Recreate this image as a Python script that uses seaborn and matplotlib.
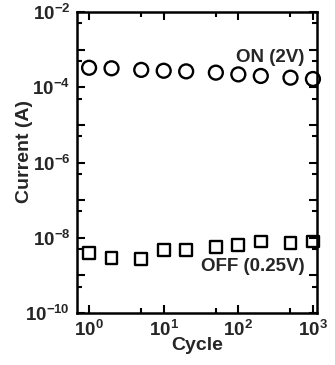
import numpy as np
import pandas as pd
import matplotlib
matplotlib.use("Agg")
import matplotlib.pyplot as plt
import seaborn as sns
from matplotlib.ticker import FixedLocator, FixedFormatter, NullFormatter

# ---- data ----
cycles = [1, 2, 5, 10, 20, 50, 100, 200, 500, 1000]
on_current = [3.3e-4, 3.2e-4, 2.9e-4, 2.75e-4, 2.65e-4, 2.45e-4, 2.2e-4, 2.0e-4, 1.8e-4, 1.66e-4]
off_current = [4.0e-9, 2.85e-9, 2.7e-9, 4.7e-9, 4.7e-9, 5.6e-9, 6.4e-9, 7.9e-9, 7.4e-9, 7.9e-9]
x_tick_labels = ["$\\mathbf{10^{0}}$", "$\\mathbf{10^{1}}$", "$\\mathbf{10^{2}}$", "$\\mathbf{10^{3}}$"]
x_tick_values = [1, 10, 100, 1000]
y_tick_values = [1e-10, 1e-8, 1e-6, 1e-4, 1e-2]
y_tick_labels = ["$\\mathbf{10^{-10}}$", "$\\mathbf{10^{-8}}$", "$\\mathbf{10^{-6}}$",
                 "$\\mathbf{10^{-4}}$", "$\\mathbf{10^{-2}}$"]
on_label = "ON (2V)"
off_label = "OFF (0.25V)"

sns.set_style("ticks")
plt.rcParams["font.family"] = ["Liberation Sans", "DejaVu Sans"]
plt.rcParams["mathtext.fontset"] = "custom"
plt.rcParams["mathtext.bf"] = "Liberation Sans:bold"
plt.rcParams["mathtext.rm"] = "Liberation Sans:bold"

df = pd.DataFrame({"cycle": cycles, "on": on_current, "off": off_current})

fig = plt.figure(figsize=(3.35, 3.65), dpi=100)
ax = fig.add_axes([0.23, 0.1425, 0.716, 0.8245])

sns.scatterplot(data=df, x="cycle", y="on", marker="o", s=100, facecolor="none",
                edgecolor="black", linewidth=1.7, ax=ax, zorder=3, clip_on=False)
sns.scatterplot(data=df, x="cycle", y="off", marker="s", s=72, facecolor="none",
                edgecolor="black", linewidth=1.7, ax=ax, zorder=3, clip_on=False)

ax.set_xscale("log")
ax.set_yscale("log")
ax.set_xlim(0.69, 1130)
ax.set_ylim(1e-10, 1e-2)

ax.xaxis.set_major_locator(FixedLocator(x_tick_values))
ax.xaxis.set_major_formatter(FixedFormatter(x_tick_labels))
ax.xaxis.set_minor_locator(FixedLocator([5, 50, 500]))
ax.xaxis.set_minor_formatter(NullFormatter())
ymaj = [10.0 ** k for k in range(-10, -1)]
ax.yaxis.set_major_locator(FixedLocator(ymaj))
ax.yaxis.set_major_formatter(FixedFormatter(
    [y_tick_labels[y_tick_values.index(v)] if v in y_tick_values else "" for v in
     [1e-10, 1e-9, 1e-8, 1e-7, 1e-6, 1e-5, 1e-4, 1e-3, 1e-2]]))
ax.yaxis.set_minor_locator(FixedLocator([5 * 10.0 ** k for k in range(-10, -2)]))
ax.yaxis.set_minor_formatter(NullFormatter())

ax.tick_params(which="both", direction="in", top=True, right=True, width=1.5, color="black")
ax.tick_params(which="major", length=6, labelsize=13.5, pad=5)
ax.tick_params(which="minor", length=3.5)
for s in ax.spines.values():
    s.set_linewidth(1.8)
    s.set_color("black")

ax.set_xlabel("Cycle", fontsize=14, fontweight="bold")
ax.xaxis.set_label_coords(0.5, -0.08)
ax.set_ylabel("Current (A)", fontsize=14, fontweight="bold")
ax.yaxis.set_label_coords(-0.183, 0.535)

ax.text(0.948, 0.850, on_label, transform=ax.transAxes, ha="right", va="center",
        fontsize=13.5, fontweight="bold")
ax.text(0.948, 0.153, off_label, transform=ax.transAxes, ha="right", va="center",
        fontsize=13.5, fontweight="bold")

fig.savefig("out.png", dpi=100)
